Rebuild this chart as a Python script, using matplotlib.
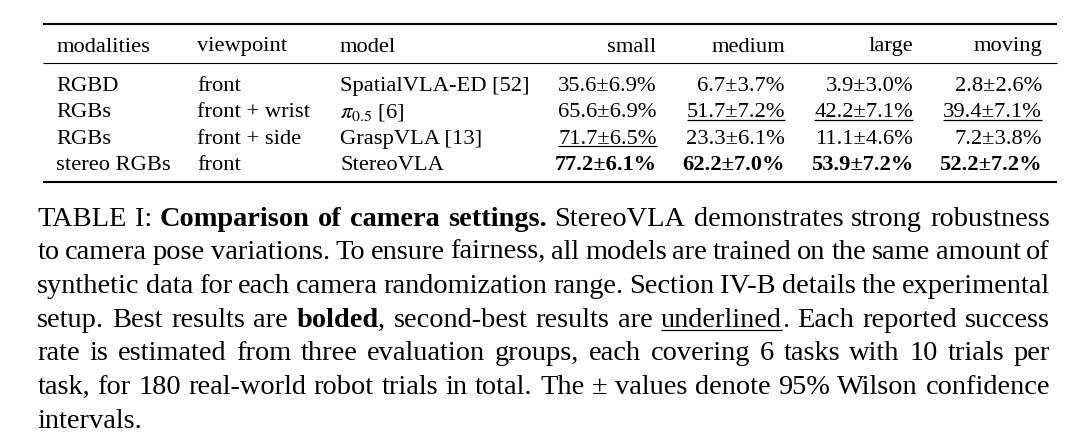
import matplotlib
matplotlib.use("Agg")
import matplotlib.pyplot as plt

plt.rcParams['font.family'] = ['Liberation Serif', 'DejaVu Serif']
plt.rcParams['mathtext.fontset'] = 'stix'

W, H = 1078, 439

# table data
headers = ["modalities", "viewpoint", "model", "small", "medium", "large", "moving"]
modalities = ["RGBD", "RGBs", "RGBs", "stereo RGBs"]
viewpoints = ["front", "front + wrist", "front + side", "front"]
models = ["SpatialVLA-ED [52]", r"$\pi_{0.5}$ [6]", "GraspVLA [13]", "StereoVLA"]
small = [35.6, 65.6, 71.7, 77.2]
small_ci = [6.9, 6.9, 6.5, 6.1]
medium = [6.7, 51.7, 23.3, 62.2]
medium_ci = [3.7, 7.2, 6.1, 7.0]
large = [3.9, 42.2, 11.1, 53.9]
large_ci = [3.0, 7.1, 4.6, 7.2]
moving = [2.8, 39.4, 7.2, 52.2]
moving_ci = [2.6, 7.1, 3.8, 7.2]

# caption, one list of (text, style) runs per printed line; r=regular b=bold u=underline
caption = [
    [("TABLE I: ", "r"), ("Comparison of camera settings.", "b"),
     (" StereoVLA demonstrates strong robustness", "r")],
    [("to camera pose variations. To ensure fairness, all models are trained on the same amount of", "r")],
    [("synthetic data for each camera randomization range. Section IV-B details the experimental", "r")],
    [("setup. Best results are ", "r"), ("bolded", "b"), (", second-best results are ", "r"),
     ("underlined", "u"), (". Each reported success", "r")],
    [("rate is estimated from three evaluation groups, each covering 6 tasks with 10 trials per", "r")],
    [("task, for 180 real-world robot trials in total. The \u00b1 values denote 95% Wilson confidence", "r")],
    [("intervals.", "r")],
]

fig = plt.figure(figsize=(W / 100, H / 100), dpi=100)
ax = fig.add_axes([0, 0, 1, 1])
ax.set_xlim(0, W)
ax.set_ylim(H, 0)
ax.axis('off')

tfs = 16.2   # table font size
cfs = 20.4   # caption font size

# rules
rule_x0, rule_x1 = 43, 1057
ax.plot([rule_x0, rule_x1], [24.5, 24.5], color='black', lw=1.5, solid_capstyle='butt')
ax.plot([rule_x0, rule_x1], [63.5, 63.5], color='black', lw=0.8, solid_capstyle='butt')
ax.plot([rule_x0, rule_x1], [183, 183], color='black', lw=1.5, solid_capstyle='butt')

left_x = [56.5, 197, 340]
right_x = [656.5, 785, 913, 1042]
head_y = 51.5
row_y = [90.7, 117.3, 143.9, 170.5]

for j in range(3):
    ax.text(left_x[j], head_y, headers[j], fontsize=tfs, ha='left', va='baseline')
for j in range(4):
    ax.text(right_x[j], head_y, headers[3 + j], fontsize=tfs, ha='right', va='baseline')

for i in range(4):
    ax.text(left_x[0], row_y[i], modalities[i], fontsize=tfs, ha='left', va='baseline')
    ax.text(left_x[1], row_y[i], viewpoints[i], fontsize=tfs, ha='left', va='baseline')
    ax.text(left_x[2], row_y[i], models[i], fontsize=tfs, ha='left', va='baseline')

fig.canvas.draw()
renderer = fig.canvas.get_renderer()

cols = [(small, small_ci), (medium, medium_ci), (large, large_ci), (moving, moving_ci)]
for j, (vals, cis) in enumerate(cols):
    order = sorted(range(len(vals)), key=lambda k: vals[k], reverse=True)
    best, second = order[0], order[1]
    for i in range(len(vals)):
        s = "%.1f\u00b1%.1f%%" % (vals[i], cis[i])
        t = ax.text(right_x[j], row_y[i], s, fontsize=tfs, ha='right', va='baseline',
                    fontweight='bold' if i == best else 'normal')
        if i == second:
            bb = t.get_window_extent(renderer)
            ax.plot([bb.x0, bb.x1], [row_y[i] + 3.2] * 2, color='black', lw=0.9,
                    solid_capstyle='butt')


def line_words(runs):
    words = [[]]
    for txt, sty in runs:
        parts = txt.split(' ')
        for k, p in enumerate(parts):
            if k > 0:
                words.append([])
            if p:
                words[-1].append((p, sty))
    return [w for w in words if w]


cap_x0, cap_x1 = 37.3, 1050
cap_y0, cap_dy = 225.7, 33.65
space = cfs * 100 / 72 * 0.25

for n, runs in enumerate(caption):
    y = cap_y0 + n * cap_dy
    words = line_words(runs)
    items = []
    for w in words:
        pieces = []
        for p, sty in w:
            t = ax.text(0, y, p, fontsize=cfs, ha='left', va='baseline',
                        fontweight='bold' if sty == 'b' else 'normal')
            wd = t.get_window_extent(renderer).width
            pieces.append((t, wd, sty))
        items.append(pieces)
    widths = [sum(p[1] for p in it) for it in items]
    if n < len(caption) - 1 and len(items) > 1:
        gap = (cap_x1 - cap_x0 - sum(widths)) / (len(items) - 1)
    else:
        gap = space
    x = cap_x0
    for it, wd in zip(items, widths):
        px = x
        for t, pw, sty in it:
            t.set_position((px, y))
            if sty == 'u':
                ax.plot([px, px + pw], [y + 4, y + 4], color='black', lw=0.9,
                        solid_capstyle='butt')
            px += pw
        x += wd + gap

fig.savefig('out.png', dpi=100)
